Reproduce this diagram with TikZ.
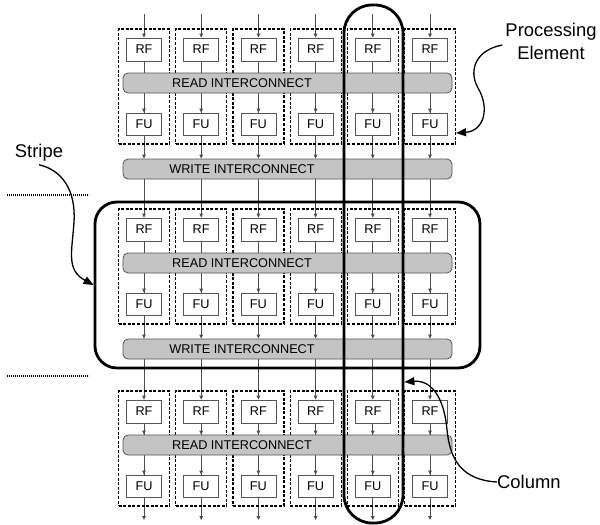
\documentclass[tikz,border=0pt]{standalone}
\usepackage{fontspec}
\setmainfont{Liberation Sans}
\usetikzlibrary{arrows.meta}
\definecolor{wiregray}{HTML}{4D4D4D}
\definecolor{boxgray}{HTML}{555555}
\definecolor{barfill}{HTML}{C4C4C4}
\definecolor{txt}{HTML}{000000}
\pgfdeclarelayer{bg}
\pgfsetlayers{bg,main}
\begin{document}
\begin{tikzpicture}[x=1pt,y=-1pt,
  wire/.style={draw=wiregray, line width=0.8pt},
  tip/.style={-{Triangle[length=4pt,width=3.6pt]}},
  unitbox/.style={draw=boxgray, fill=white, line width=0.8pt, minimum width=35pt,
    minimum height=23pt, inner sep=0pt, font=\fontsize{12.7}{14}\selectfont, text=txt},
  pebox/.style={draw=black, dash pattern=on 3pt off 1.6pt, line width=1.2pt,
    minimum width=51pt, minimum height=115pt, inner sep=0pt},
  bar/.style={draw=boxgray, fill=barfill, rounded corners=5pt, line width=0.8pt,
    minimum width=329pt, minimum height=20pt, inner sep=0pt},
  barlbl/.style={xshift=-45.5pt, font=\fontsize{12.7}{14}\selectfont, text=txt, inner sep=0pt},
  bigbox/.style={draw=black, line width=2.8pt, inner sep=0pt},
  callout/.style={draw=black, line width=1.3pt, -{Triangle[length=10pt,width=8pt]}},
  bigtext/.style={font=\fontsize{18.4}{23}\selectfont, text=txt, align=center, inner sep=0pt},
  dotline/.style={draw=black, line width=1.2pt, dash pattern=on 1.2pt off 0.8pt}
]
\useasboundingbox (0,0) rectangle (600,525);

% processing element boxes
\foreach \s/\b in {1/29,2/209,3/391}{
  \foreach \c in {1,...,6}{
    \pgfmathsetmacro\xc{144+57.2*(\c-1)}
    \node[pebox] (pe\s\c) at (\xc,\b+57.5) {};
  }
}
% interconnect bars
\foreach \s/\b in {1/29,2/209,3/391}{
  \node[bar, label={[barlbl]center:READ INTERCONNECT}] (rd\s) at (287.5,\b+54) {};
}
\foreach \s/\b in {1/29,2/209}{
  \node[bar, label={[barlbl]center:WRITE INTERCONNECT}] (wr\s) at (287.5,\b+140) {};
}
% RF and FU boxes
\foreach \s/\b in {1/29,2/209,3/391}{
  \foreach \c in {1,...,6}{
    \pgfmathsetmacro\xc{144+57.2*(\c-1)}
    \node[unitbox] (rf\s\c) at (\xc,\b+20.5) {RF};
    \node[unitbox, minimum height=22pt] (fu\s\c) at (\xc,\b+95) {FU};
  }
}
\foreach \c in {1,...,6}{
  \pgfmathsetmacro\xc{144+57.2*(\c-1)}
  \coordinate (top\c) at (\xc,14);
  \coordinate (bot\c) at (\xc,520);
}

% wires
\begin{pgfonlayer}{bg}
\foreach \c in {1,...,6}{
  \draw[wire,tip] (top\c) -- (rf1\c.north);
  \foreach \s in {1,2,3}{
    \draw[wire] (rf\s\c.south) -- (fu\s\c.north);
    \draw[wire,tip] (fu\s\c.north |- rd\s.south) -- (fu\s\c.north);
  }
  \draw[wire,tip] (rf3\c.south) -- (rf3\c.south |- rd3.north);
  \foreach \s/\n in {1/2,2/3}{
    \draw[wire,tip] (fu\s\c.south) -- (fu\s\c.south |- wr\s.north);
    \draw[wire,tip] (rf\n\c.north |- wr\s.south) -- (rf\n\c.north);
  }
  \draw[wire,tip] (fu3\c.south) -- (bot\c);
}
\end{pgfonlayer}

% stripe and column outlines
\node[bigbox, rounded corners=22pt, minimum width=385pt, minimum height=166pt] (stripe) at (287.5,285) {};
\node[bigbox, rounded corners=28pt, minimum width=59pt, minimum height=518pt] (column) at (373.5,264) {};

% separators
\draw[dotline] (7,195) -- (89,195);
\draw[dotline] (7,376) -- (89,376);

% callouts
\node[bigtext] (petext) at (551,41) {Processing\\Element};
\node[bigtext] (stext) at (39,153) {Stripe};
\node[bigtext, anchor=west] (ctext) at (497,482) {Column};

\draw[callout] ([xshift=-3pt,yshift=-4pt]petext.west) .. controls (476,50) and (468,70) .. (478,88)
  .. controls (490,108) and (484,131) .. ([yshift=-46.5pt]pe16.east);
\draw[callout] ([yshift=-3pt]stext.south) .. controls (62,170) and (76,190) .. (74,222)
  .. controls (72,252) and (66,270) .. (stripe.west);
\draw[callout] (ctext.west) .. controls (462,480) and (450,460) .. (447,430)
  .. controls (444,395) and (430,380) .. ([yshift=-118pt]column.east);
\end{tikzpicture}
\end{document}
